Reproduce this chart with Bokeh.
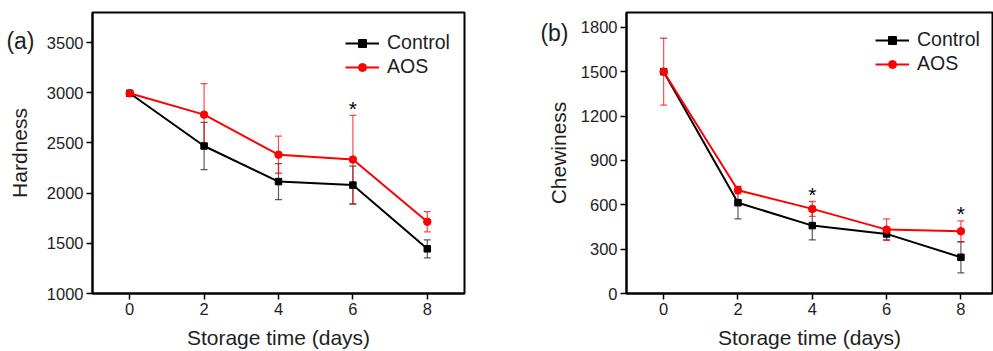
from bokeh.plotting import figure
from bokeh.layouts import row
from bokeh.models import (ColumnDataSource, Whisker, TeeHead, FixedTicker, Range1d,
                          LinearAxis)
from bokeh.core.properties import value
from bokeh.embed import file_html
from bokeh.resources import INLINE

# ---------------- data ----------------
days = [0, 2, 4, 6, 8]
x_ticks = [0, 2, 4, 6, 8]

hard_ticks = [1000, 1500, 2000, 2500, 3000, 3500]
hard_control = [2995, 2470, 2115, 2080, 1445]
hard_control_err = [10, 235, 180, 190, 90]
hard_aos = [2995, 2782, 2383, 2335, 1715]
hard_aos_err = [10, 310, 185, 440, 100]
hard_sig_days = [6]

chew_ticks = [0, 300, 600, 900, 1200, 1500, 1800]
chew_control = [1500, 614, 459, 403, 245]
chew_control_err = [0, 110, 97, 40, 105]
chew_aos = [1500, 698, 572, 432, 421]
chew_aos_err = [226, 25, 50, 73, 70]
chew_sig_days = [4, 8]

FONT = "Liberation Sans"
TXT = "#1e1e1e"
RED = "#ff0000"
BLACK = "#000000"


def make_panel(width, min_left, min_right, x_end, y_start, y_end, y_ticks, ylabel, tag,
               tag_y, tag_standoff, title_standoff, ctrl, ctrl_err, aos, aos_err,
               sig_days, legend_xy):
    p = figure(width=width, height=351, output_backend="svg", toolbar_location=None,
               x_range=Range1d(-1, x_end), y_range=Range1d(y_start, y_end),
               min_border_left=min_left, min_border_right=min_right,
               min_border_top=12, min_border_bottom=40)
    p.grid.visible = False
    p.outline_line_color = BLACK
    p.outline_line_width = 2
    p.outline_line_alpha = 1
    p.background_fill_color = "white"
    p.border_fill_color = "white"

    for ax in (p.xaxis[0], p.yaxis[0]):
        ax.axis_line_width = 2
        ax.axis_line_color = BLACK
        ax.major_tick_line_width = 1.5
        ax.major_tick_line_color = BLACK
        ax.major_tick_out = 6
        ax.major_tick_in = 0
        ax.minor_tick_out = 0
        ax.minor_tick_in = 0
        ax.major_label_text_font = FONT
        ax.major_label_text_font_size = "16.5px"
        ax.major_label_text_color = TXT
        ax.axis_label_text_font = FONT
        ax.axis_label_text_font_size = "21px"
        ax.axis_label_text_font_style = "normal"
        ax.axis_label_text_color = TXT

    p.xaxis.ticker = FixedTicker(ticks=x_ticks)
    p.yaxis.ticker = FixedTicker(ticks=y_ticks)
    p.xaxis.axis_label = "Storage time (days)"
    p.xaxis.major_label_standoff = 3
    p.xaxis.axis_label_standoff = 8
    p.yaxis.major_label_standoff = 3

    # outer left axis: carries the panel tag "(a)/(b)" and the y title
    tag_axis = LinearAxis(ticker=FixedTicker(ticks=[tag_y]),
                          major_label_overrides={tag_y: tag},
                          axis_label=ylabel)
    tag_axis.axis_line_color = None
    tag_axis.major_tick_out = 0
    tag_axis.major_tick_in = 0
    tag_axis.minor_tick_out = 0
    tag_axis.minor_tick_in = 0
    tag_axis.major_label_standoff = tag_standoff
    tag_axis.major_label_text_font = FONT
    tag_axis.major_label_text_font_size = "23px"
    tag_axis.major_label_text_color = TXT
    tag_axis.axis_label_standoff = title_standoff
    tag_axis.axis_label_text_font = FONT
    tag_axis.axis_label_text_font_size = "21px"
    tag_axis.axis_label_text_font_style = "normal"
    tag_axis.axis_label_text_color = TXT
    p.add_layout(tag_axis, "left")

    src_c = ColumnDataSource(dict(x=days, y=ctrl,
                                  lo=[v - e for v, e in zip(ctrl, ctrl_err)],
                                  hi=[v + e for v, e in zip(ctrl, ctrl_err)]))
    src_a = ColumnDataSource(dict(x=days, y=aos,
                                  lo=[v - e for v, e in zip(aos, aos_err)],
                                  hi=[v + e for v, e in zip(aos, aos_err)]))

    for src, col, alpha in ((src_c, "#333333", 0.8), (src_a, RED, 0.7)):
        w = Whisker(source=src, base="x", lower="lo", upper="hi",
                    line_color=col, line_width=1.2, line_alpha=alpha, level="underlay",
                    upper_head=TeeHead(size=7, line_color=col, line_width=1.3, line_alpha=alpha),
                    lower_head=TeeHead(size=7, line_color=col, line_width=1.3, line_alpha=alpha))
        p.add_layout(w)

    p.line("x", "y", source=src_c, line_color=BLACK, line_width=2, legend_label="Control")
    p.scatter("x", "y", source=src_c, marker="square", size=6.5, fill_color=BLACK,
              line_color=BLACK, legend_label="Control")
    p.line("x", "y", source=src_a, line_color=RED, line_width=2, legend_label="AOS")
    p.scatter("x", "y", source=src_a, marker="circle", size=7.5, fill_color=RED,
              line_color=RED, legend_label="AOS")

    sig_y = [aos[days.index(d)] + aos_err[days.index(d)] for d in sig_days]
    p.text(x=sig_days, y=sig_y, text=["*"] * len(sig_days), text_font=value(FONT),
           text_font_size="21px", text_color=BLACK, text_align="center",
           text_baseline="alphabetic", y_offset=-7)

    lg = p.legend[0]
    lg.location = legend_xy
    lg.padding = 0
    lg.margin = 0
    lg.spacing = 1
    lg.border_line_alpha = 0
    lg.background_fill_alpha = 0
    lg.glyph_width = 34
    lg.glyph_height = 20
    lg.label_height = 20
    lg.label_standoff = 8
    lg.label_text_font = FONT
    lg.label_text_font_size = "19.5px"
    lg.label_text_color = TXT
    return p


pa = make_panel(500, 92, 36, 9, 1000, 3800, hard_ticks, "Hardness", "(a)", 3512, 9, -28,
                hard_control, hard_control_err, hard_aos, hard_aos_err, hard_sig_days,
                (253, 215))
pb = make_panel(493, 126, 1, 8.85, 0, 1900, chew_ticks, "Chewiness", "(b)", 1763, 9, -33,
                chew_control, chew_control_err, chew_aos, chew_aos_err, chew_sig_days,
                (249, 218))

layout = row(pa, pb, spacing=0)
open("out.html", "w").write(file_html(layout, INLINE))
